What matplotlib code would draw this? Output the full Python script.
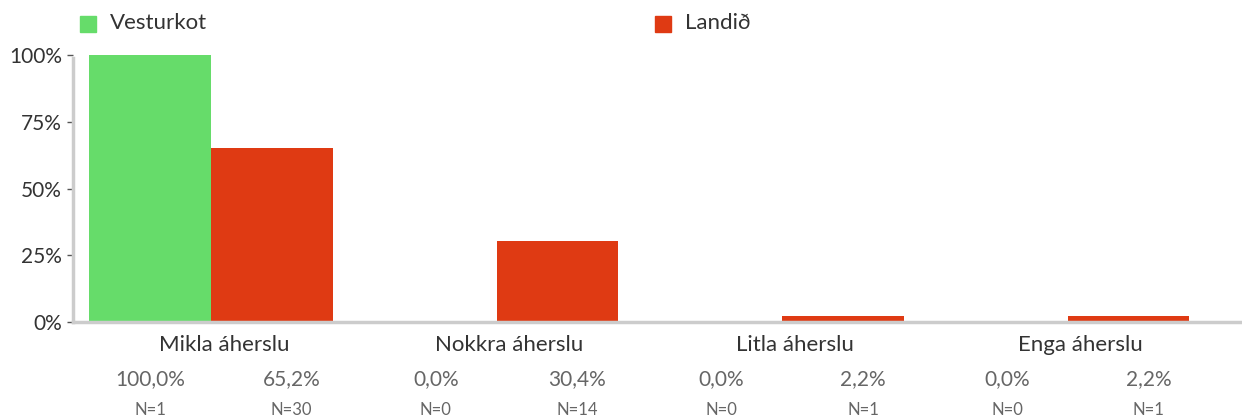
import matplotlib
matplotlib.use("Agg")
import matplotlib.pyplot as plt
import numpy as np

categories = ["Mikla áherslu", "Nokkra áherslu", "Litla áherslu", "Enga áherslu"]
series_names = ["Vesturkot", "Landið"]
vesturkot = [100.0, 0.0, 0.0, 0.0]
landid = [65.2, 30.4, 2.2, 2.2]
vesturkot_n = [1, 0, 0, 0]
landid_n = [30, 14, 1, 1]
yticks = [0, 25, 50, 75, 100]
ytick_labels = ["0%", "25%", "50%", "75%", "100%"]

GREEN = "#66DC6A"
RED = "#DF3A13"
FONT = ["Lato", "DejaVu Sans"]

W, H = 1242, 419
fig = plt.figure(figsize=(W / 100, H / 100), dpi=100)
ax = fig.add_axes([73 / W, 1 - 322 / H, (W - 73) / W, (322 - 55) / H])

x = np.arange(len(categories))
bw = 0.4256
ax.bar(x - bw / 2, vesturkot, width=bw, color=GREEN)
ax.bar(x + bw / 2, landid, width=bw, color=RED)

ax.set_xlim(-0.483, 3.61)
ax.set_ylim(0, 100)
ax.set_yticks(yticks)
ax.set_yticklabels(ytick_labels, fontfamily=FONT, fontsize=15, color="#333333")
ax.tick_params(axis="y", length=4, width=1, color="#555555", pad=4)
ax.set_xticks([])
for s in ["top", "right"]:
    ax.spines[s].set_visible(False)
for s in ["left", "bottom"]:
    ax.spines[s].set_color("#cccccc")
    ax.spines[s].set_linewidth(2.5)
ax.spines["left"].set_bounds(0, 99)

trans = ax.get_xaxis_transform()
for i, cat in enumerate(categories):
    ax.text(i + 0.045, -0.085, cat, transform=trans, ha="center", va="center",
            fontsize=16, color="#333333", fontfamily=FONT)
    ax.text(i - bw / 2, -0.215, f"{vesturkot[i]:.1f}%".replace(".", ","), transform=trans,
            ha="center", va="center", fontsize=15, color="#666666", fontfamily=FONT)
    ax.text(i + bw / 2 + 0.07, -0.215, f"{landid[i]:.1f}%".replace(".", ","), transform=trans,
            ha="center", va="center", fontsize=15, color="#666666", fontfamily=FONT)
    ax.text(i - bw / 2, -0.33, f"N={vesturkot_n[i]}", transform=trans,
            ha="center", va="center", fontsize=12, color="#666666", fontfamily=FONT)
    ax.text(i + bw / 2 + 0.07, -0.33, f"N={landid_n[i]}", transform=trans,
            ha="center", va="center", fontsize=12, color="#666666", fontfamily=FONT)

# legend
for name, color, px in [(series_names[0], GREEN, 80), (series_names[1], RED, 655)]:
    fig.patches.append(plt.Rectangle((px / W, 1 - 32 / H), 16 / W, 16 / H,
                                     transform=fig.transFigure, color=color))
    fig.text((px + 30) / W, 1 - 23 / H, name, ha="left", va="center",
             fontsize=16, color="#333333", fontfamily=FONT)

fig.savefig("out.png", dpi=100)
